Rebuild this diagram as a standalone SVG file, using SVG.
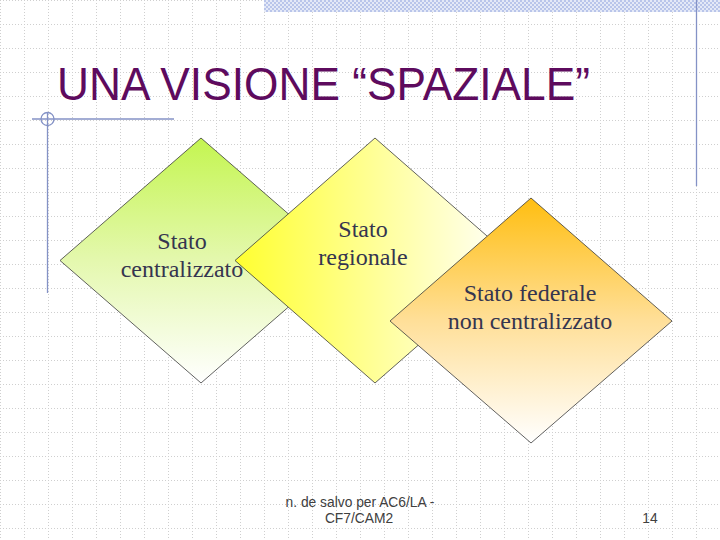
<svg xmlns="http://www.w3.org/2000/svg" width="720" height="540" viewBox="0 0 720 540">
  <defs>
    <pattern id="grid" width="24" height="24" patternUnits="userSpaceOnUse">
      <path d="M0 0.5H24M0.5 0V24" stroke="#cfcfcf" stroke-width="1" stroke-dasharray="1 2" fill="none"/>
    </pattern>
    <pattern id="hatch" width="4" height="4" patternUnits="userSpaceOnUse">
      <rect width="4" height="4" fill="#e4e9f7"/>
      <rect width="2" height="2" fill="#b9c5ea"/>
      <rect x="2" y="2" width="2" height="2" fill="#b9c5ea"/>
    </pattern>
    <linearGradient id="gGreen" x1="0" y1="0" x2="0" y2="1">
      <stop offset="0" stop-color="#c4f550"/>
      <stop offset="0.5" stop-color="#e4f8ae"/>
      <stop offset="1" stop-color="#ffffff"/>
    </linearGradient>
    <linearGradient id="gYellow" x1="0" y1="0" x2="1" y2="0">
      <stop offset="0" stop-color="#ffff30"/>
      <stop offset="1" stop-color="#ffffff"/>
    </linearGradient>
    <linearGradient id="gOrange" x1="0" y1="0" x2="0" y2="1">
      <stop offset="0" stop-color="#ffbe10"/>
      <stop offset="0.5" stop-color="#ffdf98"/>
      <stop offset="1" stop-color="#ffffff"/>
    </linearGradient>
    <style>
      .diamond { stroke: #3a3a3a; stroke-width: 0.8; }
      .label { font-family: "Liberation Serif", "Times New Roman", serif; font-size: 24px; fill: #35354f; text-anchor: middle; }
      .deco { stroke: #8492c6; stroke-width: 1.3; fill: none; }
      .title { font-family: "Liberation Sans", Arial, sans-serif; font-size: 46px; fill: #5e0b5e; }
      .foot { font-family: "Liberation Sans", Arial, sans-serif; font-size: 13.8px; fill: #404040; text-anchor: middle; }
    </style>
  </defs>

  <rect width="720" height="540" fill="#ffffff"/>
  <rect width="720" height="540" fill="url(#grid)"/>

  <g id="decoration">
    <rect x="264" y="0" width="456" height="12" fill="url(#hatch)"/>
    <line class="deco" x1="696.5" y1="0" x2="696.5" y2="186"/>
    <line class="deco" x1="32" y1="119" x2="174" y2="119"/>
    <line class="deco" x1="47.5" y1="112" x2="47.5" y2="293"/>
    <circle class="deco" cx="47.5" cy="119" r="6.5"/>
  </g>

  <text class="title" x="57" y="100" textLength="533" lengthAdjust="spacingAndGlyphs">UNA VISIONE “SPAZIALE”</text>

  <g id="connectors"></g>

  <g id="node-centralizzato">
    <polygon class="diamond" fill="url(#gGreen)" points="201,138 342,260.5 201,383 60,260.5"/>
    <text class="label" x="182" y="249">Stato</text>
    <text class="label" x="182" y="277">centralizzato</text>
  </g>

  <g id="node-regionale">
    <polygon class="diamond" fill="url(#gYellow)" points="375,138 515,260.5 375,383 235,260.5"/>
    <text class="label" x="363" y="237">Stato</text>
    <text class="label" x="363" y="265">regionale</text>
  </g>

  <g id="node-federale">
    <polygon class="diamond" fill="url(#gOrange)" points="531,198 672,321 531,443 390,321"/>
    <text class="label" x="530" y="301">Stato federale</text>
    <text class="label" x="530" y="329">non centralizzato</text>
  </g>

  <g id="footer">
    <text class="foot" x="360" y="507">n. de salvo per AC6/LA -</text>
    <text class="foot" x="359" y="523">CF7/CAM2</text>
    <text class="foot" x="650" y="523">14</text>
  </g>
</svg>
